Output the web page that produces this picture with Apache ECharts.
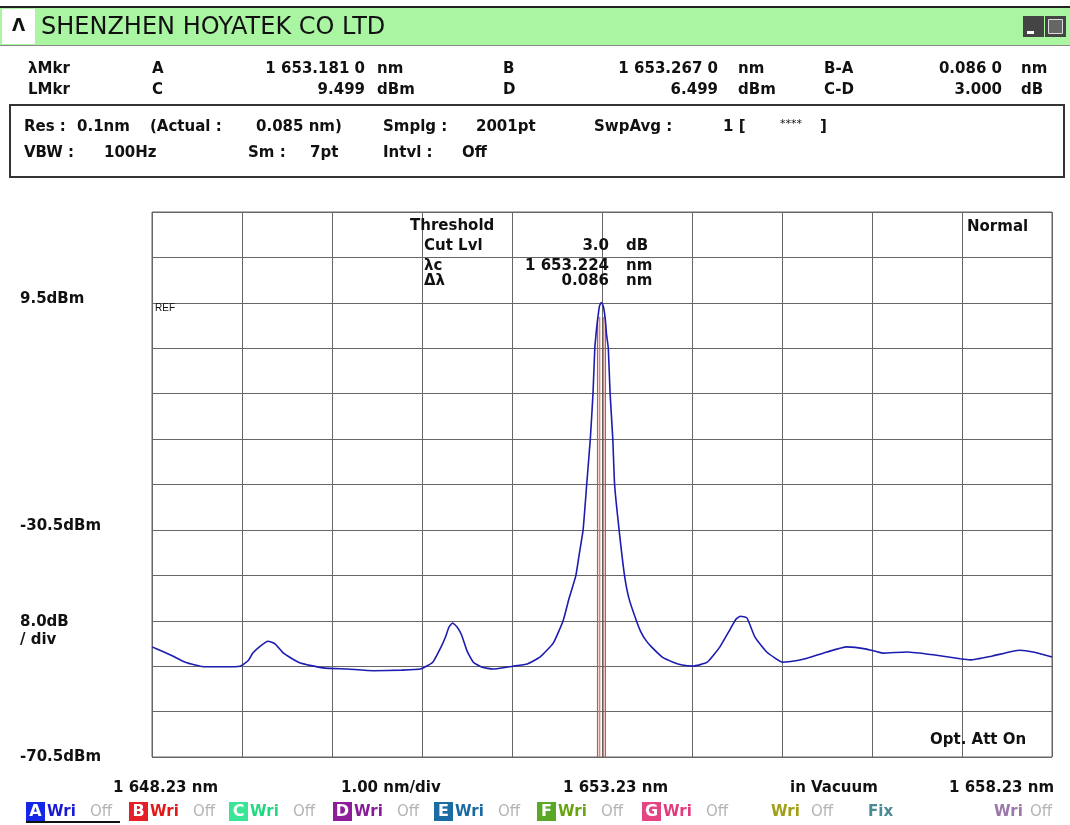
<!DOCTYPE html>
<html>
<head>
<meta charset="utf-8">
<script src="https://cdn.jsdelivr.net/npm/echarts@6/dist/echarts.min.js"></script>
<style>
html,body{margin:0;padding:0;background:#fff;}
#c{width:1070px;height:825px;}
</style>
</head>
<body>
<div id="c"></div>
<script>
// ---- data ----
const wavelengthNm = [1648.23,1648.35,1648.46,1648.60,1648.80,1649.00,1649.21,1649.30,1649.35,1649.43,1649.52,1649.60,1649.69,1649.87,1650.13,1650.40,1650.69,1651.00,1651.21,1651.35,1651.43,1651.49,1651.53,1651.57,1651.62,1651.67,1651.73,1651.80,1651.90,1652.02,1652.24,1652.40,1652.54,1652.69,1652.80,1652.86,1652.94,1652.98,1653.02,1653.06,1653.10,1653.13,1653.15,1653.17,1653.181,1653.20,1653.215,1653.224,1653.235,1653.25,1653.267,1653.28,1653.30,1653.32,1653.35,1653.37,1653.42,1653.48,1653.53,1653.61,1653.66,1653.72,1653.78,1653.90,1654.02,1654.12,1654.24,1654.40,1654.54,1654.65,1654.72,1654.77,1654.84,1654.93,1655.06,1655.24,1655.40,1655.51,1655.73,1655.95,1656.17,1656.35,1656.62,1656.91,1657.21,1657.32,1657.57,1657.87,1658.02,1658.23];
const powerDbm = [-51.1,-51.9,-52.7,-53.8,-54.6,-54.6,-54.5,-53.5,-52.2,-51.0,-50.1,-50.6,-52.2,-53.9,-54.8,-55.0,-55.3,-55.2,-55.0,-53.8,-51.5,-49.4,-47.6,-46.9,-47.6,-49.0,-51.8,-53.8,-54.7,-55.0,-54.5,-54.1,-52.9,-50.4,-46.4,-42.8,-38.5,-34.5,-30.5,-22.5,-14.5,-6.5,1.5,5.0,6.5,8.8,9.4,9.5,9.3,8.5,6.5,4.0,1.5,-6.5,-14.5,-22.5,-30.5,-38.5,-42.6,-46.4,-48.4,-50.0,-51.1,-52.9,-53.8,-54.3,-54.5,-53.8,-51.1,-48.1,-46.2,-45.7,-46.0,-49.4,-52.0,-53.8,-53.5,-53.1,-52.0,-51.1,-51.5,-52.2,-52.0,-52.5,-53.2,-53.4,-52.7,-51.7,-52.0,-52.9];
const markerNm = [1653.181, 1653.267];      // markers A / B
const innerLineNm = [1653.205, 1653.242];   // threshold lines
const xRange = [1648.23, 1658.23];
const yRange = [-70.5, 25.5];
const yTickValues = [9.5, -30.5, -70.5];
const yTickLabels = ['9.5dBm', '-30.5dBm', '-70.5dBm'];
const scaleLabels = ['8.0dB', '/ div'];
const footerLabels = ['1 648.23 nm', '1.00 nm/div', '1 653.23 nm', 'in Vacuum', '1 658.23 nm'];
const titleText = 'SHENZHEN HOYATEK CO LTD';
const markerRow1 = ['λMkr', 'A', '1 653.181 0', 'nm', 'B', '1 653.267 0', 'nm', 'B-A', '0.086 0', 'nm'];
const markerRow2 = ['LMkr', 'C', '9.499', 'dBm', 'D', '6.499', 'dBm', 'C-D', '3.000', 'dB'];
const thresholdLabels = ['Cut Lvl', 'λc', 'Δλ'];
const thresholdValues = ['3.0', '1 653.224', '0.086'];
const thresholdUnits = ['dB', 'nm', 'nm'];
const traceLetters = ['A', 'B', 'C', 'D', 'E', 'F', 'G'];

const BOLD = 'bold 15px "DejaVu Sans", sans-serif';
const chart = echarts.init(document.getElementById('c'), null, {renderer: 'canvas'});

const G = {left: 152, top: 212, width: 900, height: 545};
const traceData = wavelengthNm.map((x, i) => [x, powerDbm[i]]);

const vLineSeries = (nm, color, w) => ({
  type: 'line', xAxisIndex: 0, yAxisIndex: 0, symbol: 'none', silent: true, z: 2,
  lineStyle: {color: color, width: w}, data: [[nm, 7.0], [nm, yRange[0]]]
});

chart.setOption({
  animation: false,
  backgroundColor: '#ffffff',
  grid: {left: G.left, top: G.top, width: G.width, height: G.height, show: true, borderColor: '#666', borderWidth: 1},
  xAxis: [
    {type: 'value', min: xRange[0], max: xRange[1], show: false},
    {type: 'value', min: 0, max: 10, interval: 1, position: 'bottom',
     axisLine: {show: false}, axisTick: {show: false}, axisLabel: {show: false},
     splitLine: {show: true, lineStyle: {color: '#666', width: 1}}}
  ],
  yAxis: [
    {type: 'value', min: yRange[0], max: yRange[1], show: false},
    {type: 'value', min: 0, max: 12, interval: 1, position: 'left',
     axisLine: {show: false}, axisTick: {show: false}, axisLabel: {show: false},
     splitLine: {show: true, lineStyle: {color: '#666', width: 1}}}
  ],
  series: [
    vLineSeries(markerNm[0], '#e04848', 1.3),
    vLineSeries(markerNm[1], '#e04848', 1.3),
    vLineSeries(innerLineNm[0], '#b07a5a', 1.1),
    vLineSeries(innerLineNm[1], '#705848', 1.1),
    {type: 'line', xAxisIndex: 0, yAxisIndex: 0, symbol: 'none', z: 5, smooth: 0.15,
     lineStyle: {color: '#1c1cb0', width: 1.6}, data: traceData}
  ]
});

function T(text, x, y, opt) {
  opt = opt || {};
  return {type: 'text', x: x, y: y, z: 10, silent: true,
    style: {text: text, fill: opt.fill || '#111', font: opt.font || BOLD,
      align: opt.align || 'left', verticalAlign: 'middle'}};
}
function R(x, y, w, h, fill, stroke, lw) {
  return {type: 'rect', z: 5, silent: true, shape: {x: x, y: y, width: w, height: h},
    style: {fill: fill || 'none', stroke: stroke || null, lineWidth: lw || 0}};
}

const g = [];
// header
g.push(R(0, 6, 1070, 2, '#222'));
g.push(R(0, 8, 1070, 37, '#aaf5a2'));
g.push(R(2, 9, 33, 35, '#ffffff'));
g.push(T('Λ', 12, 27, {font: 'bold 17px "DejaVu Sans", sans-serif'}));
g.push(T(titleText, 41, 28, {font: '24px "DejaVu Sans", sans-serif'}));
g.push(R(0, 45, 1070, 1, '#8a8a8a'));
g.push(R(1023, 16, 21, 21, '#444'));
g.push(R(1027, 31, 7, 3, '#ffffff'));
g.push(R(1045, 16, 21, 21, '#444'));
g.push(R(1048.5, 19.5, 14, 14, '#666', '#dddddd', 1));

// marker rows
const mX = [[28,'left'],[152,'left'],[365,'right'],[377,'left'],[503,'left'],[718,'right'],[738,'left'],[824,'left'],[1002,'right'],[1021,'left']];
markerRow1.forEach((s, i) => g.push(T(s, mX[i][0], 69, {align: mX[i][1]})));
markerRow2.forEach((s, i) => g.push(T(s, mX[i][0], 90, {align: mX[i][1]})));

// info box
g.push(R(10, 105, 1054, 72, null, '#333', 2));
[['Res :',24],['0.1nm',77],['(Actual :',150],['0.085 nm)',256],['Smplg :',383],['2001pt',476],['SwpAvg :',594],['1 [',723],[']',820]]
  .forEach(a => g.push(T(a[0], a[1], 127)));
g.push(T('****', 780, 124, {font: '11px "DejaVu Sans", sans-serif'}));
[['VBW :',24],['100Hz',104],['Sm :',248],['7pt',310],['Intvl :',383],['Off',462]]
  .forEach(a => g.push(T(a[0], a[1], 153)));

// threshold block
g.push(T('Threshold', 410, 226));
thresholdLabels.forEach((s, i) => {
  const y = [246, 266, 281][i];
  g.push(T(s, 424, y));
  g.push(T(thresholdValues[i], 609, y, {align: 'right'}));
  g.push(T(thresholdUnits[i], 626, y));
});
g.push(T('Normal', 967, 227));
g.push(T('REF', 155, 308, {font: '10px "Liberation Sans", Arial, sans-serif'}));
g.push(T('Opt. Att On', 930, 740));

// y labels through axis scale
yTickValues.forEach((v, i) => {
  const py = chart.convertToPixel({yAxisIndex: 0}, v);
  const off = i === yTickValues.length - 1 ? 0 : -4;
  g.push(T(yTickLabels[i], 20, py + off));
});
g.push(T(scaleLabels[0], 20, 622));
g.push(T(scaleLabels[1], 20, 640));

// footer
[113, 341, 563, 790, 949].forEach((x, i) => g.push(T(footerLabels[i], x, 788)));

// trace legend row
const boxCol = ['#1426e6', '#e61e28', '#3ae696', '#8c1e9a', '#1c6ca4', '#5aa826', '#e44482'];
const wriCol = ['#1a1ad0', '#e01818', '#22d880', '#861c96', '#1a6aa0', '#68a412', '#e03c7c'];
const boxX = [26, 129, 229, 333, 434, 537, 642];
traceLetters.forEach((L, i) => {
  const x = boxX[i];
  g.push(R(x, 802, 19, 19, boxCol[i]));
  g.push(T(L, x + 9.5, 812, {align: 'center', fill: '#fff', font: 'bold 16px "DejaVu Sans", sans-serif'}));
  g.push(T('Wri', x + 21, 812, {fill: wriCol[i]}));
  g.push(T('Off', x + 64, 812, {fill: '#b4b4b4', font: '15px "DejaVu Sans", sans-serif'}));
});
g.push(R(26, 821, 94, 2, '#111'));
g.push(T('Wri', 771, 812, {fill: '#a0a014'}));
g.push(T('Off', 811, 812, {fill: '#b4b4b4', font: '15px "DejaVu Sans", sans-serif'}));
g.push(T('Fix', 868, 812, {fill: '#4a8a94'}));
g.push(T('Wri', 994, 812, {fill: '#9a76aa'}));
g.push(T('Off', 1030, 812, {fill: '#b4b4b4', font: '15px "DejaVu Sans", sans-serif'}));

chart.setOption({graphic: {elements: g}});
</script>
</body>
</html>
